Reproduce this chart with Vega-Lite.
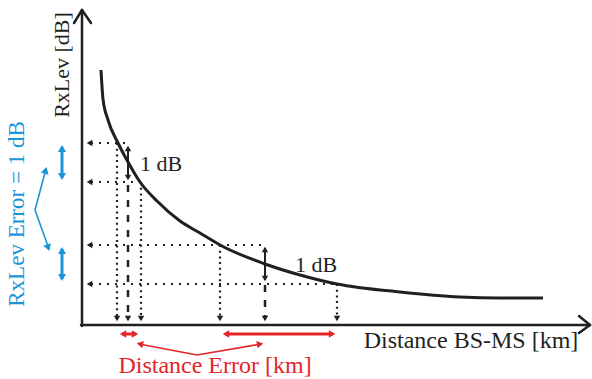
{
  "$schema": "https://vega.github.io/schema/vega-lite/v6.json",
  "width": 592,
  "height": 379,
  "padding": 0,
  "autosize": {"type": "fit", "contains": "padding"},
  "background": "white",
  "config": {"view": {"stroke": null}},
  "datasets": {
    "curve": [
      {"x": 19, "y": 255}, {"x": 21, "y": 226}, {"x": 26, "y": 205}, {"x": 36, "y": 182},
      {"x": 46, "y": 163}, {"x": 58, "y": 143}, {"x": 75, "y": 124}, {"x": 98, "y": 104},
      {"x": 118, "y": 92}, {"x": 138, "y": 80}, {"x": 183, "y": 61}, {"x": 218, "y": 50},
      {"x": 255, "y": 41}, {"x": 318, "y": 33}, {"x": 378, "y": 28}, {"x": 418, "y": 27},
      {"x": 461, "y": 27}
    ],
    "segments": [
      {"kind": "axis", "x": 0, "y": -1, "x2": 0, "y2": 315},
      {"kind": "axis", "x": -8, "y": 302, "x2": 0, "y2": 315},
      {"kind": "axis", "x": 0, "y": 315, "x2": 9, "y2": 302},
      {"kind": "axis", "x": -1, "y": 0, "x2": 508, "y2": 0},
      {"kind": "axis", "x": 497, "y": 9, "x2": 508, "y2": 0},
      {"kind": "axis", "x": 508, "y": 0, "x2": 497, "y2": -8},
      {"kind": "doth", "x": 9, "y": 182, "x2": 46, "y2": 182},
      {"kind": "doth", "x": 9, "y": 143, "x2": 58, "y2": 143},
      {"kind": "doth", "x": 9, "y": 80, "x2": 183, "y2": 80},
      {"kind": "doth", "x": 9, "y": 41, "x2": 255, "y2": 41},
      {"kind": "dotv", "x": 35, "y": 182, "x2": 35, "y2": 7},
      {"kind": "dotv", "x": 59, "y": 143, "x2": 59, "y2": 7},
      {"kind": "dotv", "x": 138, "y": 80, "x2": 138, "y2": 7},
      {"kind": "dotv", "x": 255, "y": 41, "x2": 255, "y2": 7},
      {"kind": "dash", "x": 46, "y": 140, "x2": 46, "y2": 7},
      {"kind": "dash", "x": 183, "y": 40, "x2": 183, "y2": 7},
      {"kind": "solid", "x": 46, "y": 178, "x2": 46, "y2": 146},
      {"kind": "solid", "x": 183, "y": 77, "x2": 183, "y2": 45},
      {"kind": "blue", "x": -20, "y": 178, "x2": -20, "y2": 147},
      {"kind": "blue", "x": -20, "y": 76, "x2": -20, "y2": 46},
      {"kind": "bluethin", "x": -47, "y": 115, "x2": -36, "y2": 156},
      {"kind": "bluethin", "x": -47, "y": 115, "x2": -33, "y2": 76},
      {"kind": "red", "x": 40, "y": -9, "x2": 54, "y2": -9},
      {"kind": "red", "x": 143, "y": -9, "x2": 251, "y2": -9},
      {"kind": "redthin", "x": 115, "y": -30, "x2": 57, "y2": -19},
      {"kind": "redthin", "x": 115, "y": -30, "x2": 179, "y2": -19}
    ],
    "heads": [
      {"kind": "black", "x": 7.5, "y": 182, "dir": 270},
      {"kind": "black", "x": 7.5, "y": 143, "dir": 270},
      {"kind": "black", "x": 7.5, "y": 80, "dir": 270},
      {"kind": "black", "x": 7.5, "y": 41, "dir": 270},
      {"kind": "black", "x": 35, "y": 6.5, "dir": 180},
      {"kind": "black", "x": 46, "y": 6.5, "dir": 180},
      {"kind": "black", "x": 59, "y": 6.5, "dir": 180},
      {"kind": "black", "x": 138, "y": 6.5, "dir": 180},
      {"kind": "black", "x": 183, "y": 6.5, "dir": 180},
      {"kind": "black", "x": 255, "y": 6.5, "dir": 180},
      {"kind": "black", "x": 46, "y": 176.5, "dir": 0},
      {"kind": "black", "x": 46, "y": 147.5, "dir": 180},
      {"kind": "black", "x": 183, "y": 75.5, "dir": 0},
      {"kind": "black", "x": 183, "y": 46.5, "dir": 180},
      {"kind": "blue", "x": -20, "y": 176.5, "dir": 0},
      {"kind": "blue", "x": -20, "y": 148.5, "dir": 180},
      {"kind": "blue", "x": -20, "y": 74.5, "dir": 0},
      {"kind": "blue", "x": -20, "y": 47.5, "dir": 180},
      {"kind": "blue", "x": -36.4, "y": 154.7, "dir": 15},
      {"kind": "blue", "x": -33.8, "y": 77.2, "dir": 161},
      {"kind": "red", "x": 41, "y": -9, "dir": 270},
      {"kind": "red", "x": 53, "y": -9, "dir": 90},
      {"kind": "red", "x": 144, "y": -9, "dir": 270},
      {"kind": "red", "x": 250, "y": -9, "dir": 90},
      {"kind": "red", "x": 57.9, "y": -19, "dir": 282},
      {"kind": "red", "x": 178.1, "y": -19, "dir": 79}
    ],
    "labels": [
      {"kind": "ytitle", "text": "RxLev [dB]", "x": -20, "y": 260, "rot": 270},
      {"kind": "xtitle", "text": "Distance BS-MS [km]", "x": 389, "y": -16, "rot": 0},
      {"kind": "note", "text": "1 dB", "x": 79, "y": 161, "rot": 0},
      {"kind": "note", "text": "1 dB", "x": 234, "y": 60, "rot": 0},
      {"kind": "blue", "text": "RxLev  Error = 1 dB", "x": -65, "y": 111, "rot": 270},
      {"kind": "red", "text": "Distance Error [km]", "x": 133, "y": -41, "rot": 0}
    ]
  },
  "encoding": {
    "x": {"field": "x", "type": "quantitative", "axis": null, "scale": {"domain": [-82, 510], "nice": false, "zero": false}},
    "y": {"field": "y", "type": "quantitative", "axis": null, "scale": {"domain": [-54, 325], "nice": false, "zero": false}}
  },
  "layer": [
    {
      "data": {"name": "segments"},
      "transform": [{"filter": "datum.kind === 'doth'"}],
      "mark": {"type": "rule", "color": "#231f20", "strokeWidth": 2.2, "strokeDash": [2, 6]},
      "encoding": {"x2": {"field": "x2"}, "y2": {"field": "y2"}}
    },
    {
      "data": {"name": "segments"},
      "transform": [{"filter": "datum.kind === 'dotv'"}],
      "mark": {"type": "rule", "color": "#231f20", "strokeWidth": 2.2, "strokeDash": [2, 3.7]},
      "encoding": {"x2": {"field": "x2"}, "y2": {"field": "y2"}}
    },
    {
      "data": {"name": "segments"},
      "transform": [{"filter": "datum.kind === 'dash'"}],
      "mark": {"type": "rule", "color": "#231f20", "strokeWidth": 2.5, "strokeDash": [7, 8]},
      "encoding": {"x2": {"field": "x2"}, "y2": {"field": "y2"}}
    },
    {
      "data": {"name": "segments"},
      "transform": [{"filter": "datum.kind === 'solid'"}],
      "mark": {"type": "rule", "color": "#231f20", "strokeWidth": 2},
      "encoding": {"x2": {"field": "x2"}, "y2": {"field": "y2"}}
    },
    {
      "data": {"name": "segments"},
      "transform": [{"filter": "datum.kind === 'axis'"}],
      "mark": {"type": "rule", "color": "#231f20", "strokeWidth": 2.5, "strokeCap": "round"},
      "encoding": {"x2": {"field": "x2"}, "y2": {"field": "y2"}}
    },
    {
      "data": {"name": "segments"},
      "transform": [{"filter": "datum.kind === 'blue'"}],
      "mark": {"type": "rule", "color": "#1b95d8", "strokeWidth": 3},
      "encoding": {"x2": {"field": "x2"}, "y2": {"field": "y2"}}
    },
    {
      "data": {"name": "segments"},
      "transform": [{"filter": "datum.kind === 'bluethin'"}],
      "mark": {"type": "rule", "color": "#1b95d8", "strokeWidth": 1.6},
      "encoding": {"x2": {"field": "x2"}, "y2": {"field": "y2"}}
    },
    {
      "data": {"name": "segments"},
      "transform": [{"filter": "datum.kind === 'red'"}],
      "mark": {"type": "rule", "color": "#e2262a", "strokeWidth": 3},
      "encoding": {"x2": {"field": "x2"}, "y2": {"field": "y2"}}
    },
    {
      "data": {"name": "segments"},
      "transform": [{"filter": "datum.kind === 'redthin'"}],
      "mark": {"type": "rule", "color": "#e2262a", "strokeWidth": 1.6},
      "encoding": {"x2": {"field": "x2"}, "y2": {"field": "y2"}}
    },
    {
      "data": {"name": "curve"},
      "mark": {"type": "line", "color": "#231f20", "strokeWidth": 3, "interpolate": "monotone"},
      "encoding": {}
    },
    {
      "data": {"name": "heads"},
      "transform": [{"filter": "datum.kind === 'black'"}],
      "mark": {"type": "point", "shape": "triangle-up", "filled": true, "opacity": 1, "size": 42, "color": "#231f20"},
      "encoding": {"angle": {"field": "dir", "type": "quantitative", "scale": null}}
    },
    {
      "data": {"name": "heads"},
      "transform": [{"filter": "datum.kind === 'blue'"}],
      "mark": {"type": "point", "shape": "triangle-up", "filled": true, "opacity": 1, "size": 64, "color": "#1b95d8"},
      "encoding": {"angle": {"field": "dir", "type": "quantitative", "scale": null}}
    },
    {
      "data": {"name": "heads"},
      "transform": [{"filter": "datum.kind === 'red'"}],
      "mark": {"type": "point", "shape": "triangle-up", "filled": true, "opacity": 1, "size": 55, "color": "#e2262a"},
      "encoding": {"angle": {"field": "dir", "type": "quantitative", "scale": null}}
    },
    {
      "data": {"name": "labels"},
      "transform": [{"filter": "datum.kind === 'ytitle' || datum.kind === 'note'"}],
      "mark": {"type": "text", "font": "Liberation Serif", "fontSize": 22, "align": "center", "baseline": "middle", "color": "#231f20"},
      "encoding": {"text": {"field": "text"}, "angle": {"field": "rot", "type": "quantitative", "scale": null}}
    },
    {
      "data": {"name": "labels"},
      "transform": [{"filter": "datum.kind === 'xtitle'"}],
      "mark": {"type": "text", "font": "Liberation Serif", "fontSize": 24, "align": "center", "baseline": "middle", "color": "#231f20"},
      "encoding": {"text": {"field": "text"}}
    },
    {
      "data": {"name": "labels"},
      "transform": [{"filter": "datum.kind === 'blue'"}],
      "mark": {"type": "text", "font": "Liberation Serif", "fontSize": 23, "align": "center", "baseline": "middle", "color": "#1b95d8", "angle": 270},
      "encoding": {"text": {"field": "text"}}
    },
    {
      "data": {"name": "labels"},
      "transform": [{"filter": "datum.kind === 'red'"}],
      "mark": {"type": "text", "font": "Liberation Serif", "fontSize": 24, "align": "center", "baseline": "middle", "color": "#e2262a"},
      "encoding": {"text": {"field": "text"}}
    }
  ]
}
